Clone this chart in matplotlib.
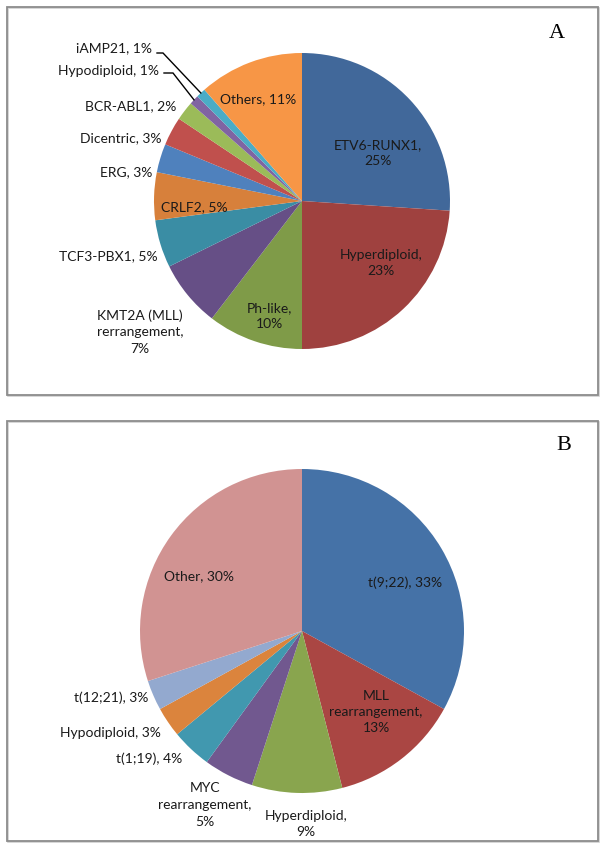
import matplotlib
matplotlib.use("Agg")
import matplotlib.pyplot as plt
import numpy as np
from matplotlib.patches import Rectangle

W, H = 606, 849

# ---------------- data ----------------
a_names = ["ETV6-RUNX1", "Hyperdiploid", "Ph-like", "KMT2A (MLL)\nrerrangement",
           "TCF3-PBX1", "CRLF2", "ERG", "Dicentric", "BCR-ABL1", "Hypodiploid",
           "iAMP21", "Others"]
a_values = [25, 23, 10, 7, 5, 5, 3, 3, 2, 1, 1, 11]

b_names = ["t(9;22)", "MLL\nrearrangement", "Hyperdiploid", "MYC\nrearrangement",
           "t(1;19)", "Hypodiploid", "t(12;21)", "Other"]
b_values = [33, 13, 9, 5, 4, 3, 3, 30]

panel_letters = ["A", "B"]

# ---------------- styles / layout ----------------
a_colors = ["#41689A", "#9F413F", "#7F9B48", "#664F86", "#3A8DA4", "#D7803B",
            "#4F81BD", "#C0504D", "#9BBB59", "#8064A2", "#4BACC6", "#F79646"]
b_colors = ["#4572A7", "#AA4643", "#89A54E", "#71588F", "#4198AF", "#DB843D",
            "#93A9CF", "#D19392"]

# label separators and positions (pixel coords from top-left), alignment
a_sep = [",\n", ",\n", ",\n", ",\n", ", ", ", ", ", ", ", ", ", ", ", ", ", ", ", "]
a_pos = [(378, 153, "center"), (381, 263, "center"), (269, 316, "center"),
         (140, 332, "center"), (158, 256, "right"), (194, 207, "center"),
         (152, 172, "right"), (161, 138, "right"), (176, 106, "right"),
         (159, 71, "right"), (152, 48, "right"), (258, 99, "center")]
a_leader = {9: (164, 173, 73), 10: (157, 163, 53)}   # x0, x1, y of horizontal stub

b_sep = [", ", ",\n", ",\n", ",\n", ", ", ", ", ", ", ", "]
b_pos = [(405, 583, "center"), (376, 712, "center"), (306, 824, "center"),
         (205, 805, "center"), (182, 759, "right"), (161, 733, "right"),
         (148, 698, "right"), (199, 576, "center")]

a_center, a_radius = (302, 201), 148
b_center, b_radius = (302, 631), 162

font = ["Lato", "DejaVu Sans"]
fs = 10
txt_color = "#1a1a1a"

fig = plt.figure(figsize=(W / 100, H / 100), dpi=100)
ax = fig.add_axes([0, 0, 1, 1])


def fy(y):
    return H - y


def draw_pie(values, colors, center, radius):
    wedges, _ = ax.pie(values, colors=colors, startangle=90, counterclock=False,
                       center=(center[0], fy(center[1])), radius=radius,
                       wedgeprops=dict(linewidth=0), frame=True)
    return wedges


a_wedges = draw_pie(a_values, a_colors, a_center, a_radius)
b_wedges = draw_pie(b_values, b_colors, b_center, b_radius)

for names, vals, seps, pos in [(a_names, a_values, a_sep, a_pos),
                               (b_names, b_values, b_sep, b_pos)]:
    for n, v, s, (x, y, ha) in zip(names, vals, seps, pos):
        ax.text(x, fy(y), f"{n}{s}{v}%", ha=ha, va="center", fontsize=fs,
                family=font, color=txt_color, multialignment="center",
                linespacing=1.45)

# leader lines for tiny slices in panel A
for i, (x0, x1, y) in a_leader.items():
    w = a_wedges[i]
    mid = np.deg2rad((w.theta1 + w.theta2) / 2)
    ex = w.center[0] + w.r * np.cos(mid)
    ey = w.center[1] + w.r * np.sin(mid)
    ax.plot([x0, x1, ex], [fy(y), fy(y), ey], color="black", lw=1.0,
            solid_joinstyle="miter")

# panel frames
for (top, bottom) in [(7, 395), (421, 841)]:
    ax.add_patch(Rectangle((8, fy(bottom) - 1), 591, bottom - top, fill=False,
                           edgecolor="#d0d0d0", lw=1.2))
    ax.add_patch(Rectangle((7, fy(bottom)), 591, bottom - top, fill=False,
                           edgecolor="#8c8c8c", lw=1.3))

# panel letters
for letter, (x, y) in zip(panel_letters, [(557, 33), (564, 445)]):
    ax.text(x, fy(y), letter, ha="center", va="center", fontsize=16,
            family=["Liberation Serif", "DejaVu Serif"], color="black")

ax.set_xlim(0, W)
ax.set_ylim(0, H)
ax.set_aspect("auto")
ax.axis("off")

fig.savefig("out.png", dpi=100, facecolor="white")
